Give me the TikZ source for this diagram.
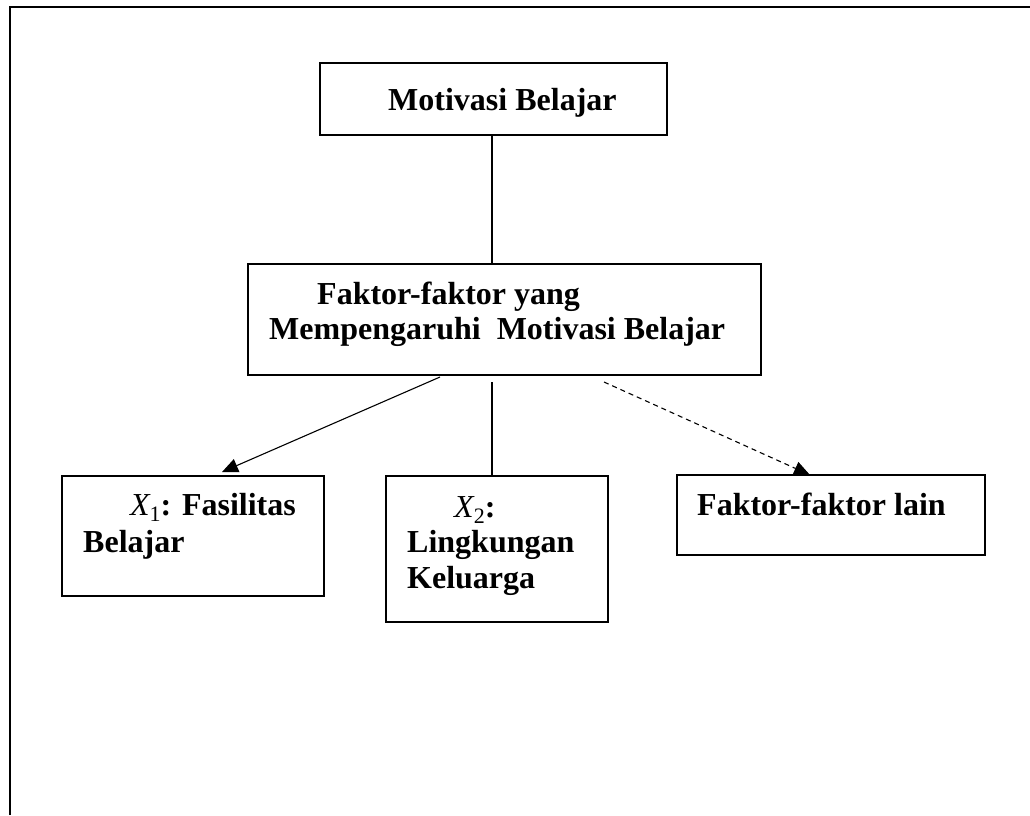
\documentclass[tikz,border=0pt]{standalone}
\usepackage{fontspec}
\setmainfont{Liberation Serif}
\usetikzlibrary{arrows.meta}
\newcommand{\txtfont}{\fontsize{32}{36}\selectfont\bfseries}
\newcommand{\subone}[1]{{\mdseries\itshape X}\raisebox{-6pt}{\fontsize{22}{22}\selectfont\mdseries #1}}
\begin{document}
\begin{tikzpicture}[x=1pt,y=-1pt,
  box/.style={draw=black, line width=1.3pt, rectangle, inner sep=0pt},
  txt/.style={inner sep=0pt, anchor=base west, font=\txtfont},
  conn/.style={draw=black, line width=1.1pt},
  tip/.style={-{Triangle[length=16pt,width=14pt]}}
]
\useasboundingbox (0,0) rectangle (1030,815);
% frame
\draw[line width=2pt] (10,815) -- (10,7) -- (1030,7);
% boxes
\node[box, minimum width=347pt, minimum height=72pt] (mb) at (493.5,99) {};
\node[box, minimum width=513pt, minimum height=111pt] (fk) at (504.5,319.5) {};
\node[box, minimum width=262pt, minimum height=120pt] (x1) at (193,536) {};
\node[box, minimum width=222pt, minimum height=146pt] (x2) at (497,549) {};
\node[box, minimum width=308pt, minimum height=80pt] (fl) at (831,515) {};
% texts
\node[txt] (tmb) at (388,110) {Motivasi Belajar};
\node[txt] (tfk1) at (317,304) {Faktor-faktor yang};
\node[txt] (tfk2) at (269,339) {Mempengaruhi\ \ Motivasi Belajar};
\node[txt] (tx1a) at (130,515) {\subone{1}: Fasilitas};
\node[txt] (tx1b) at (83,552) {Belajar};
\node[txt] (tx2a) at (454,517) {\subone{2}:};
\node[txt] (tx2b) at (407,552) {Lingkungan};
\node[txt] (tx2c) at (407,588) {Keluarga};
\node[txt] (tfl) at (697,515) {Faktor-faktor lain};
% connector anchors
\coordinate (s1) at (440,377);
\coordinate (e1) at (222,472);
\coordinate (v1) at (492,382);
\coordinate (s3) at (604,382);
\coordinate (e3) at (810,475);
% connectors
\draw[conn] (mb.south -| v1) -- (v1 |- fk.north);
\draw[conn, tip] (s1) -- (e1);
\draw[conn] (v1) -- (v1 |- x2.north);
\draw[conn, tip, dash pattern=on 5pt off 4pt] (s3) -- (e3);
\end{tikzpicture}
\end{document}
